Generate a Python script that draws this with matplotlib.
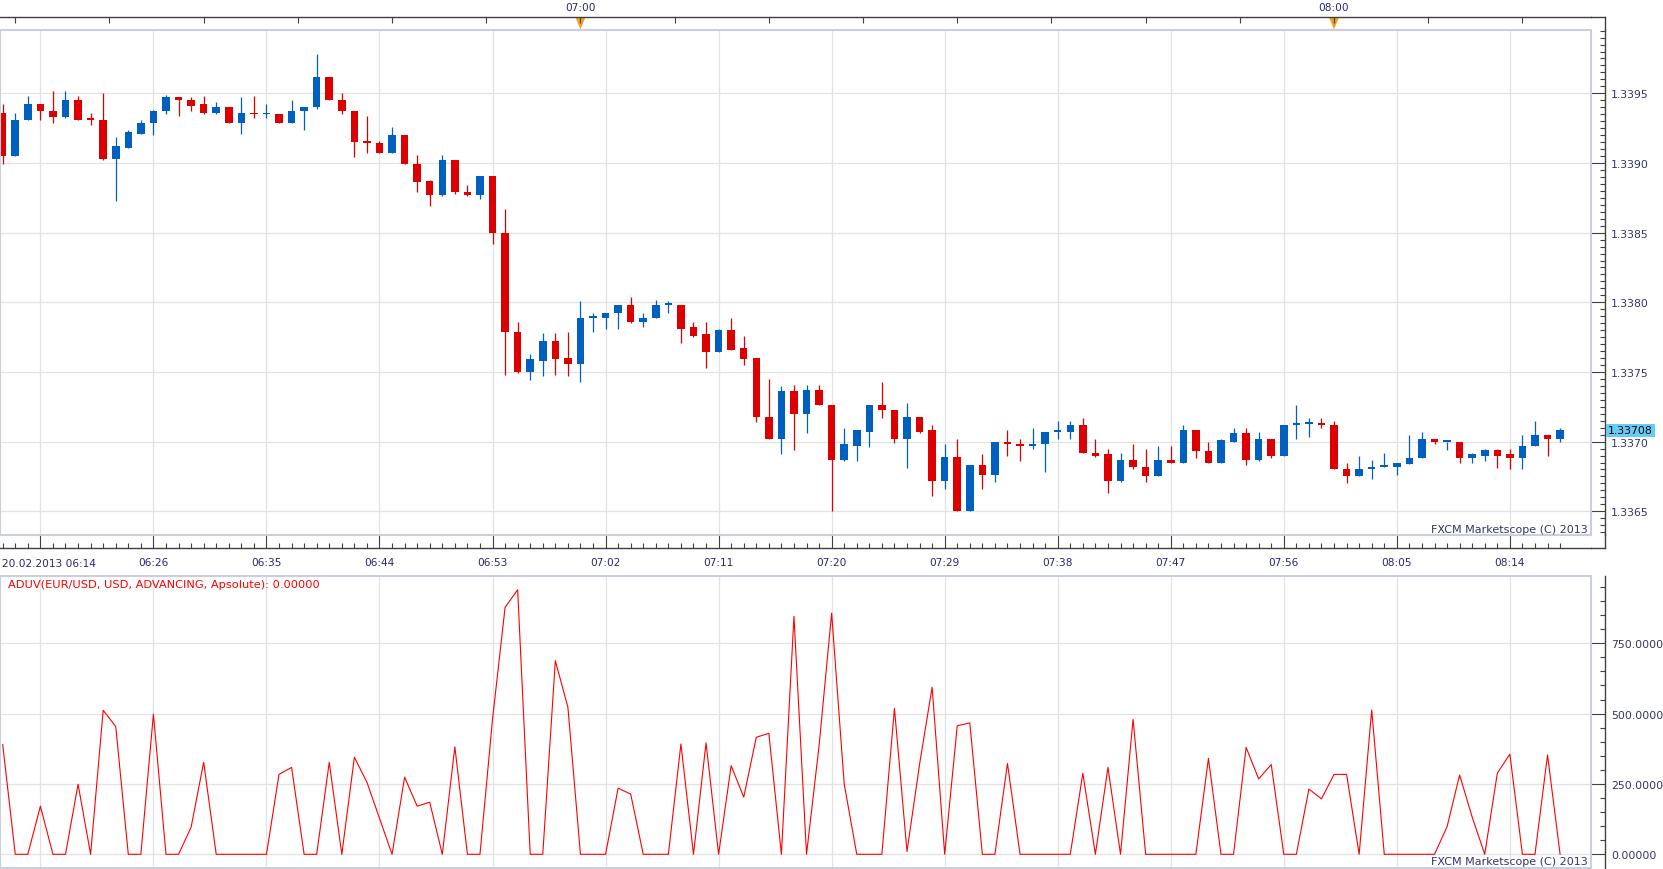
import matplotlib
matplotlib.use("Agg")
import matplotlib.pyplot as plt
from matplotlib.lines import Line2D
from matplotlib.patches import Rectangle, Polygon
from matplotlib.transforms import blended_transform_factory
import numpy as np

# EUR/USD 1-minute candles, 06:14 .. 08:18 (index 0 = 06:14)
opens = [1.33936, 1.33905, 1.33931, 1.33942, 1.33937, 1.33933, 1.33945, 1.33932, 1.33931, 1.33903,
         1.33911, 1.33921, 1.33929, 1.33937, 1.33947, 1.33945, 1.33942, 1.33936, 1.33940, 1.33929,
         1.33936, 1.33935, 1.33935, 1.33929, 1.33937, 1.33940, 1.33962, 1.33945, 1.33937, 1.33916,
         1.33914, 1.33907, 1.33920, 1.33899, 1.33887, 1.33877, 1.33902, 1.33879, 1.33877, 1.33891,
         1.33850, 1.33779, 1.33750, 1.33758, 1.33772, 1.33760, 1.33756, 1.33789, 1.33789, 1.33792,
         1.33798, 1.33786, 1.33789, 1.33798, 1.33798, 1.33782, 1.33777, 1.33764, 1.33780, 1.33767,
         1.33760, 1.33718, 1.33702, 1.33736, 1.33720, 1.33737, 1.33726, 1.33687, 1.33697, 1.33707,
         1.33726, 1.33723, 1.33702, 1.33718, 1.33708, 1.33672, 1.33689, 1.33650, 1.33683, 1.33676,
         1.33700, 1.33698, 1.33697, 1.33698, 1.33707, 1.33707, 1.33712, 1.33692, 1.33691, 1.33672,
         1.33687, 1.33682, 1.33675, 1.33687, 1.33685, 1.33708, 1.33693, 1.33685, 1.33700, 1.33706,
         1.33687, 1.33702, 1.33690, 1.33712, 1.33713, 1.33713, 1.33712, 1.33680, 1.33675, 1.33680,
         1.33682, 1.33682, 1.33684, 1.33688, 1.33702, 1.33700, 1.33700, 1.33688, 1.33690, 1.33694,
         1.33691, 1.33688, 1.33697, 1.33705, 1.33702]
highs = [1.33942, 1.33936, 1.33948, 1.33942, 1.33952, 1.33952, 1.33948, 1.33936, 1.33950, 1.33919,
         1.33924, 1.33931, 1.33938, 1.33949, 1.33947, 1.33947, 1.33948, 1.33944, 1.33940, 1.33947,
         1.33948, 1.33942, 1.33935, 1.33945, 1.33940, 1.33978, 1.33962, 1.33950, 1.33937, 1.33934,
         1.33916, 1.33926, 1.33920, 1.33906, 1.33888, 1.33906, 1.33902, 1.33884, 1.33891, 1.33891,
         1.33867, 1.33786, 1.33763, 1.33778, 1.33778, 1.33779, 1.33801, 1.33792, 1.33792, 1.33798,
         1.33804, 1.33792, 1.33802, 1.33801, 1.33798, 1.33786, 1.33786, 1.33781, 1.33789, 1.33776,
         1.33760, 1.33745, 1.33740, 1.33741, 1.33741, 1.33741, 1.33726, 1.33710, 1.33708, 1.33726,
         1.33743, 1.33723, 1.33728, 1.33718, 1.33712, 1.33698, 1.33702, 1.33683, 1.33691, 1.33700,
         1.33708, 1.33702, 1.33710, 1.33707, 1.33715, 1.33715, 1.33717, 1.33702, 1.33695, 1.33692,
         1.33698, 1.33695, 1.33697, 1.33697, 1.33712, 1.33708, 1.33700, 1.33702, 1.33710, 1.33710,
         1.33707, 1.33702, 1.33712, 1.33726, 1.33717, 1.33717, 1.33715, 1.33685, 1.33690, 1.33687,
         1.33692, 1.33685, 1.33705, 1.33707, 1.33702, 1.33700, 1.33700, 1.33692, 1.33695, 1.33695,
         1.33695, 1.33705, 1.33715, 1.33705, 1.33710]
lows = [1.33899, 1.33905, 1.33931, 1.33931, 1.33929, 1.33932, 1.33931, 1.33927, 1.33902, 1.33873,
        1.33911, 1.33921, 1.33920, 1.33935, 1.33934, 1.33937, 1.33935, 1.33935, 1.33929, 1.33921,
        1.33932, 1.33932, 1.33929, 1.33929, 1.33924, 1.33939, 1.33945, 1.33935, 1.33904, 1.33907,
        1.33907, 1.33907, 1.33899, 1.33879, 1.33869, 1.33876, 1.33878, 1.33876, 1.33874, 1.33842,
        1.33748, 1.33749, 1.33744, 1.33747, 1.33748, 1.33747, 1.33743, 1.33779, 1.33781, 1.33781,
        1.33785, 1.33782, 1.33789, 1.33792, 1.33771, 1.33775, 1.33753, 1.33764, 1.33766, 1.33755,
        1.33714, 1.33702, 1.33691, 1.33694, 1.33706, 1.33726, 1.33650, 1.33686, 1.33686, 1.33696,
        1.33717, 1.33699, 1.33681, 1.33706, 1.33661, 1.33666, 1.33650, 1.33650, 1.33666, 1.33671,
        1.33690, 1.33686, 1.33695, 1.33678, 1.33702, 1.33702, 1.33692, 1.33689, 1.33663, 1.33671,
        1.33680, 1.33671, 1.33675, 1.33685, 1.33685, 1.33688, 1.33685, 1.33685, 1.33700, 1.33683,
        1.33686, 1.33688, 1.33690, 1.33702, 1.33703, 1.33710, 1.33680, 1.33670, 1.33675, 1.33673,
        1.33682, 1.33676, 1.33684, 1.33688, 1.33698, 1.33694, 1.33685, 1.33685, 1.33686, 1.33681,
        1.33680, 1.33680, 1.33697, 1.33690, 1.33700]
closes = [1.33905, 1.33931, 1.33942, 1.33937, 1.33933, 1.33945, 1.33931, 1.33931, 1.33903, 1.33912,
          1.33922, 1.33929, 1.33937, 1.33947, 1.33945, 1.33941, 1.33936, 1.33940, 1.33929, 1.33936,
          1.33935, 1.33935, 1.33929, 1.33937, 1.33940, 1.33962, 1.33945, 1.33937, 1.33915, 1.33914,
          1.33907, 1.33920, 1.33899, 1.33886, 1.33877, 1.33902, 1.33879, 1.33877, 1.33891, 1.33850,
          1.33779, 1.33750, 1.33759, 1.33772, 1.33759, 1.33756, 1.33789, 1.33790, 1.33792, 1.33798,
          1.33786, 1.33789, 1.33798, 1.33798, 1.33781, 1.33776, 1.33764, 1.33780, 1.33766, 1.33759,
          1.33718, 1.33702, 1.33736, 1.33720, 1.33737, 1.33726, 1.33687, 1.33698, 1.33708, 1.33726,
          1.33723, 1.33702, 1.33718, 1.33707, 1.33672, 1.33689, 1.33650, 1.33683, 1.33676, 1.33700,
          1.33698, 1.33697, 1.33698, 1.33707, 1.33708, 1.33712, 1.33692, 1.33690, 1.33672, 1.33687,
          1.33682, 1.33675, 1.33687, 1.33685, 1.33708, 1.33693, 1.33685, 1.33701, 1.33706, 1.33687,
          1.33702, 1.33690, 1.33712, 1.33713, 1.33713, 1.33712, 1.33680, 1.33675, 1.33680, 1.33682,
          1.33682, 1.33685, 1.33688, 1.33702, 1.33700, 1.33700, 1.33688, 1.33691, 1.33694, 1.33690,
          1.33688, 1.33697, 1.33705, 1.33702, 1.33708]

# ADUV indicator, one value per candle
aduv = [390, 0, 0, 171, 0, 0, 249, 0, 512, 454,
        0, 0, 498, 0, 0, 96, 327, 0, 0, 0,
        0, 0, 284, 309, 0, 0, 327, 0, 345, 256,
        128, 0, 274, 171, 185, 0, 382, 0, 0, 480,
        878, 940, 0, 0, 688, 523, 0, 0, 0, 235,
        214, 0, 0, 0, 392, 0, 396, 0, 315, 203,
        416, 430, 0, 846, 0, 386, 857, 250, 0, 0,
        0, 519, 10, 320, 594, 0, 457, 467, 0, 0,
        323, 0, 0, 0, 0, 0, 288, 0, 309, 0,
        480, 0, 0, 0, 0, 0, 341, 0, 0, 380,
        268, 319, 0, 0, 232, 197, 284, 284, 0, 513,
        0, 0, 0, 0, 0, 98, 282, 132, 0, 288,
        356, 0, 0, 353, 0]

time_ticks = [3, 12, 21, 30, 39, 48, 57, 66, 75, 84, 93, 102, 111, 120]
time_labels = ["20.02.2013 06:14", "06:26", "06:35", "06:44", "06:53", "07:02", "07:11",
               "07:20", "07:29", "07:38", "07:47", "07:56", "08:05", "08:14"]
hour_ticks = [46, 106]
hour_labels = ["07:00", "08:00"]
price_ticks = [1.3365, 1.3370, 1.3375, 1.3380, 1.3385, 1.3390, 1.3395]
price_labels = ["1.3365", "1.3370", "1.3375", "1.3380", "1.3385", "1.3390", "1.3395"]
aduv_ticks = [0, 250, 500, 750]
aduv_labels = ["0.00000", "250.0000", "500.0000", "750.0000"]
last_price = 1.33708

W, H = 1663, 870
PT = 0.72  # points per pixel at dpi 100
RED = "#dd0000"
BLUE = "#0060c0"
GRID = "#e2e2e2"
BORDER = "#c9cfdb"
AXC = "#404040"
TXT = "#333366"
TIMEC = "#262673"

plt.rcParams["font.family"] = ["DejaVu Sans"]

fig = plt.figure(figsize=(W / 100, H / 100), dpi=100)
fig.patch.set_facecolor("white")


def fx(px):
    return px / W


def fy(py):
    return 1 - py / H


ax1 = fig.add_axes([0, fy(535.7), fx(1591), (535.7 - 30.7) / H])
ax2 = fig.add_axes([0, fy(869), fx(1591), (869 - 577) / H])

x = np.arange(len(opens))
o = np.array(opens)
h = np.array(highs)
l = np.array(lows)
c = np.array(closes)
cols = np.where(c >= o, BLUE, RED)

xlim = (-0.215, 126.46)

# ---- price panel ----
ax1.set_axisbelow(True)
ax1.vlines(x, l, h, colors=cols, lw=0.9, zorder=2)
ax1.bar(x, np.maximum(np.abs(c - o), 0.000012), bottom=np.minimum(o, c), width=0.6,
        color=cols, linewidth=0, zorder=3)
ax1.set_xlim(*xlim)
ax1.set_ylim(1.336332, 1.3399566)

ax1.set_xticks(time_ticks)
ax1.set_xticklabels([""] + time_labels[1:])
ax1.set_xticks(x, minor=True)
ax1.set_yticks(price_ticks)
ax1.set_yticklabels(price_labels)
ax1.set_yticks(np.arange(1.33635, 1.33996, 0.00005), minor=True)
ax1.grid(True, which="major", color=GRID, lw=0.9)

ax1.yaxis.tick_right()
ax1.spines["right"].set_position(("outward", 14 * PT))
ax1.spines["bottom"].set_position(("outward", 13.6 * PT))
for s in ("right", "bottom"):
    ax1.spines[s].set_color(AXC)
    ax1.spines[s].set_linewidth(1.0)
ax1.spines["top"].set_visible(False)
ax1.spines["left"].set_visible(False)
ax1.tick_params(axis="y", which="major", direction="in", length=14 * PT, width=0.8,
                color=AXC, pad=4.3, labelsize=7.8, labelcolor=TXT)
ax1.tick_params(axis="y", which="minor", direction="in", length=5 * PT, width=0.8, color=AXC)
ax1.tick_params(axis="x", which="major", direction="in", length=13.6 * PT, width=0.8,
                color=AXC, pad=6.5, labelsize=7.6, labelcolor=TIMEC)
ax1.tick_params(axis="x", which="minor", direction="in", length=5 * PT, width=0.8, color=AXC)
ax1.add_patch(Rectangle((0, 0), 1, 1, transform=ax1.transAxes, fill=False, ec=BORDER,
                        lw=1.5, clip_on=False, zorder=5))
ax1.text(0.001, -0.056, time_labels[0], transform=ax1.transAxes, ha="left", va="center",
         fontsize=7.6, color=TIMEC)
ax1.text(0.998, 0.0113, "FXCM Marketscope (C) 2013", transform=ax1.transAxes,
         ha="right", va="center", fontsize=8, color=TXT, zorder=6)
ax1.text(1608 / 1591, last_price, f"{last_price:.5f}",
         transform=blended_transform_factory(ax1.transAxes, ax1.transData),
         ha="left", va="center", fontsize=7.8, color="black", clip_on=False,
         bbox=dict(boxstyle="square,pad=0.18", fc="#66ccf5", ec="none"))

# top hour axis
axt = ax1.twiny()
axt.set_xlim(*xlim)
axt.set_xticks(np.arange(1, 122, 7.5))
axt.set_xticklabels(["07:00" if v == 46 else "08:00" if v == 106 else ""
                     for v in np.arange(1, 122, 7.5)])
for s in ("left", "right", "bottom"):
    axt.spines[s].set_visible(False)
axt.spines["top"].set_position(("outward", 12.4 * PT))
axt.spines["top"].set_color(AXC)
axt.spines["top"].set_linewidth(1.0)
axt.tick_params(axis="x", direction="in", length=6 * PT, width=0.8, color=AXC, pad=3.6,
                labelsize=7.6, labelcolor=TIMEC)
tr = blended_transform_factory(ax1.transData, ax1.transAxes)
for hx in hour_ticks:
    ax1.add_patch(Polygon([(hx - 0.4, 1 + 12.4 / 505), (hx + 0.4, 1 + 12.4 / 505),
                           (hx, 1 + 0.2 / 505)], closed=True, transform=tr,
                          fc="#f5a020", ec="none", clip_on=False, zorder=6))

# ---- indicator panel ----
ax2.set_axisbelow(True)
ax2.plot(x, aduv, color="#ff0000", lw=0.8)
ax2.set_xlim(*xlim)
ax2.set_ylim(-48.7, 989.2)
ax2.set_xticks(time_ticks)
ax2.set_xticklabels([])
ax2.set_yticks(aduv_ticks)
ax2.set_yticklabels(aduv_labels)
ax2.set_yticks(np.arange(0, 1000, 50), minor=True)
ax2.grid(True, which="major", color=GRID, lw=0.9)
ax2.yaxis.tick_right()
ax2.spines["right"].set_position(("outward", 14 * PT))
ax2.spines["right"].set_color(AXC)
ax2.spines["right"].set_linewidth(1.0)
for s in ("top", "left", "bottom"):
    ax2.spines[s].set_visible(False)
ax2.tick_params(axis="x", which="both", length=0)
ax2.tick_params(axis="y", which="major", direction="in", length=14 * PT, width=0.8,
                color=AXC, pad=4.3, labelsize=7.8, labelcolor=TXT)
ax2.tick_params(axis="y", which="minor", direction="in", length=5 * PT, width=0.8, color=AXC)
ax2.add_patch(Rectangle((0, 0), 1, 1, transform=ax2.transAxes, fill=False, ec=BORDER,
                        lw=1.5, clip_on=False, zorder=5))
ax2.text(7.8 / 1591, 0.971, "ADUV(EUR/USD, USD, ADVANCING, Apsolute): 0.00000",
         transform=ax2.transAxes, ha="left", va="center", fontsize=8.2, color="#ff0000")
ax2.text(0.998, 0.024, "FXCM Marketscope (C) 2013", transform=ax2.transAxes,
         ha="right", va="center", fontsize=8, color=TXT, zorder=6)

# extend the dark axis lines to meet at the right edge
for (x0, y0, x1, y1) in [(1591, 18.3, 1605, 18.3), (1591, 549.3, 1605, 549.3),
                         (1605, 18.3, 1605, 31), (1605, 535, 1605, 549.3)]:
    fig.add_artist(Line2D([fx(x0), fx(x1)], [fy(y0), fy(y1)], color=AXC, lw=1.0))

fig.savefig("out.png", dpi=100)
